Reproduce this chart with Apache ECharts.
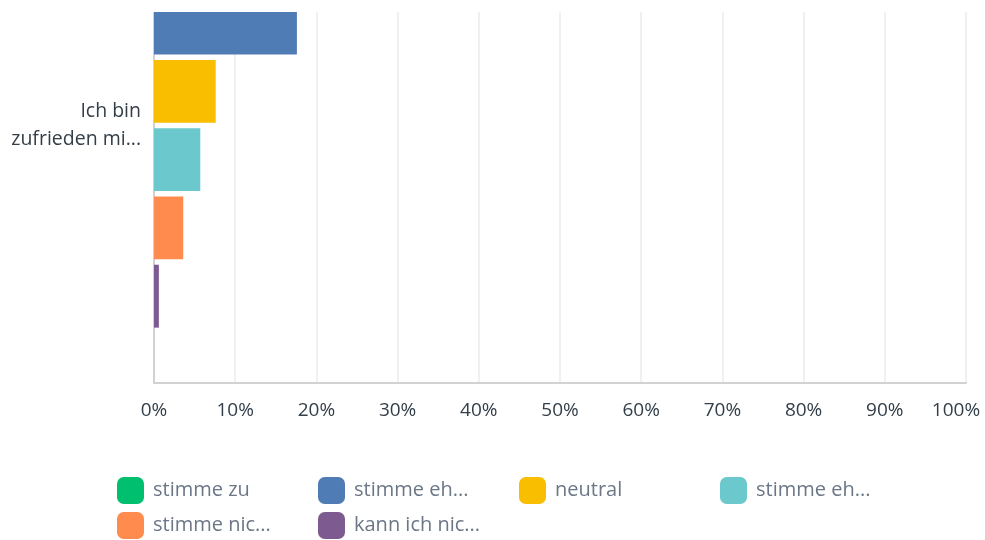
<!DOCTYPE html>
<html>
<head>
<meta charset="utf-8">
<style>
  html, body { margin: 0; padding: 0; background: #fff; }
  #chart { width: 985px; height: 540px; }
</style>
<script src="https://cdn.jsdelivr.net/npm/echarts@6/dist/echarts.min.js"></script>
</head>
<body>
<div id="chart"></div>
<script>
// question (one category)
const categories = ['Ich bin zufrieden mit']
const categoryLabels = ['Ich bin\nzufrieden mi...']

// answer options, values in percent
const seriesNames = [
  'stimme zu',
  'stimme eher zu',
  'neutral',
  'stimme eher nicht zu',
  'stimme nicht zu',
  'kann ich nicht beurteilen',
]
const legendLabels = ['stimme zu', 'stimme eh...', 'neutral', 'stimme eh...', 'stimme nic...', 'kann ich nic...']
const stimmeZu = [64.9]
const stimmeEherZu = [17.6]
const neutral = [7.6]
const stimmeEherNicht = [5.7]
const stimmeNicht = [3.6]
const kannNicht = [0.6]

const colors = ['#00bf6f', '#507cb6', '#f9be00', '#6bc8cd', '#ff8b4f', '#7d5b91']
const values = [stimmeZu, stimmeEherZu, neutral, stimmeEherNicht, stimmeNicht, kannNicht]

const fontFamily = '"Open Sans", Roboto, sans-serif'
const tickStyle = { color: '#333e48', fontSize: 19, fontFamily: fontFamily }

const chart = echarts.init(document.getElementById('chart'))

// legend as a fixed 4-column grid, one legend component per entry
const legends = seriesNames.map((name, i) => ({
  left: 112 + (i % 4) * 201,
  top: 472 + Math.floor(i / 4) * 35,
  itemWidth: 27,
  itemHeight: 27,
  icon: 'roundRect',
  formatter: () => legendLabels[i],
  textStyle: {
    color: '#6b7787',
    fontSize: 20,
    fontFamily: fontFamily,
    padding: [0, 0, 0, 4],
  },
  data: [name],
}))

const option = {
  backgroundColor: '#fff',
  animation: false,
  color: colors,
  grid: {
    left: 154,
    right: 19,
    top: -132,
    bottom: 157,
    outerBoundsMode: 'none',
  },
  xAxis: {
    type: 'value',
    min: 0,
    max: 100,
    interval: 10,
    axisLine: { show: true, lineStyle: { color: '#d2d2d2', width: 2 } },
    axisTick: { show: false },
    axisLabel: {
      // last label is pushed a little inwards so it stays on the canvas
      formatter: (v) => (v === 100 ? '{last|' + v + '%}' : '{t|' + v + '%}'),
      margin: 18,
      rich: {
        t: tickStyle,
        last: Object.assign({ padding: [0, 20, 0, 0] }, tickStyle),
      },
    },
    splitLine: {
      lineStyle: { color: '#ebebeb', width: 1.5 },
    },
  },
  yAxis: {
    type: 'category',
    inverse: true,
    data: categories,
    axisLine: { show: true, lineStyle: { color: '#d2d2d2', width: 2 } },
    axisTick: { show: false },
    axisLabel: {
      formatter: (v, i) => categoryLabels[i],
      color: '#333e48',
      fontSize: 19.5,
      lineHeight: 28,
      fontFamily: fontFamily,
      margin: 13,
      padding: [6, 0, 0, 0],
    },
  },
  legend: legends,
  graphic: [
    {
      type: 'rect',
      z: 100,
      shape: { x: 0, y: 0, width: 985, height: 12 },
      style: { fill: '#fff' },
      silent: true,
    },
  ],
  series: seriesNames.map((name, i) => ({
    name: name,
    type: 'bar',
    data: values[i],
    barCategoryGap: '21.5%',
    barGap: '8.5%',
  })),
}

chart.setOption(option)
</script>
</body>
</html>
